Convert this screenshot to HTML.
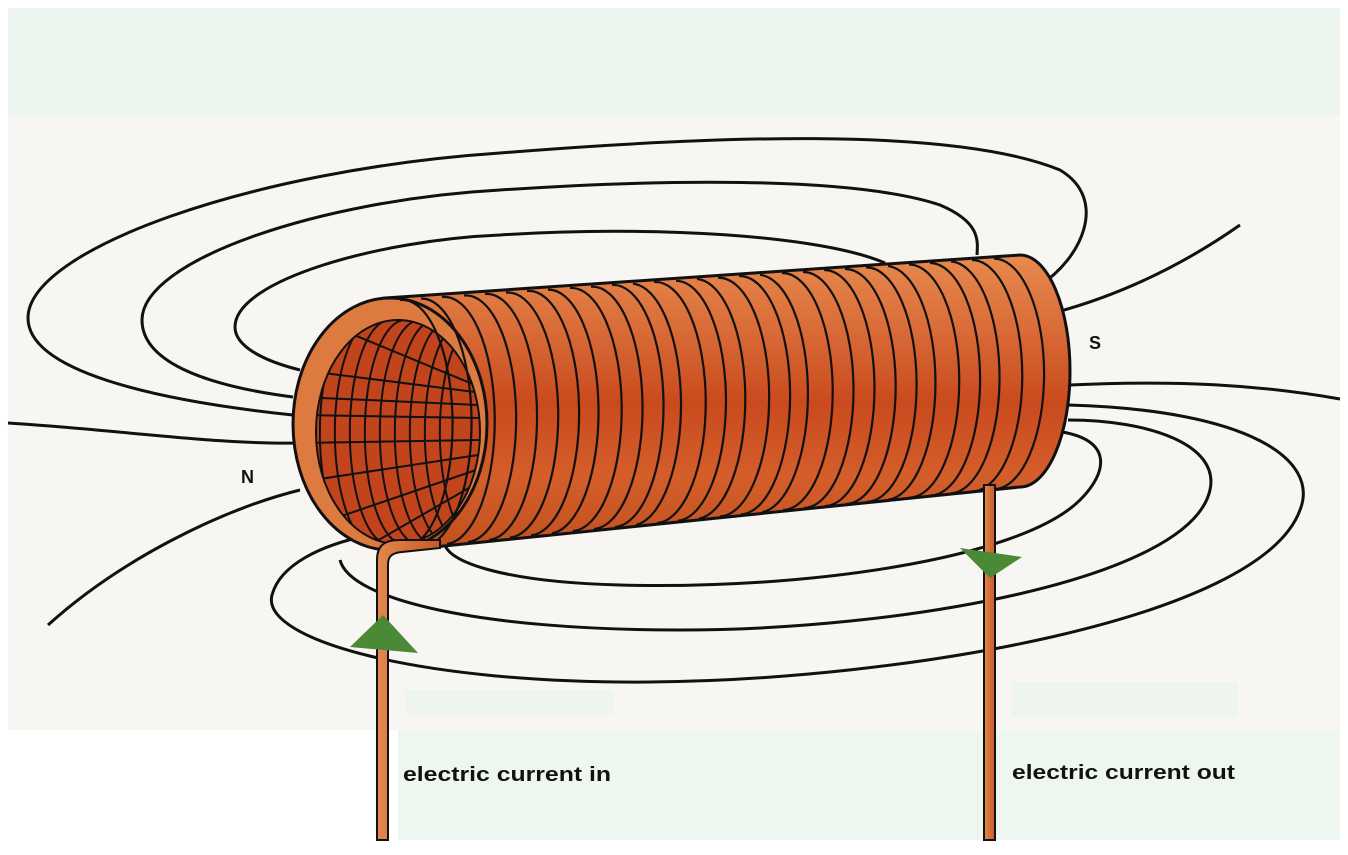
<!DOCTYPE html>
<html><head><meta charset="utf-8"><style>
html,body{margin:0;padding:0;background:#fff;}
body{width:1348px;height:850px;overflow:hidden;position:relative;font-family:"Liberation Sans",Arial,sans-serif;}
</style></head><body>
<svg width="1348" height="850" viewBox="0 0 1348 850" xmlns="http://www.w3.org/2000/svg">
<defs>
<linearGradient id="cu" x1="0" y1="0" x2="0" y2="1">
<stop offset="0" stop-color="#e88a4e"/>
<stop offset="0.25" stop-color="#d96c38"/>
<stop offset="0.5" stop-color="#c94a1e"/>
<stop offset="0.75" stop-color="#d45e2a"/>
<stop offset="1" stop-color="#c0501e"/>
</linearGradient>
<linearGradient id="wire" x1="0" y1="0" x2="1" y2="0">
<stop offset="0" stop-color="#e4874c"/><stop offset="1" stop-color="#c85a28"/>
</linearGradient>
<clipPath id="inner"><ellipse cx="398" cy="432" rx="82" ry="112"/></clipPath>
</defs>
<rect x="0" y="0" width="1348" height="850" fill="#fff"/>
<rect x="8" y="8" width="1332" height="107" fill="#edf6ee"/>
<rect x="8" y="115" width="1332" height="615" fill="#f8f6f3"/>
<rect x="398" y="730" width="942" height="110" fill="#eef7ef"/>
<rect x="405" y="690" width="208" height="25" fill="#edf5ee"/>
<rect x="1012" y="682" width="226" height="35" fill="#edf5ee"/>

<g fill="none" stroke="#111" stroke-width="3">
<path d="M293,415 C150,400 28,370 28,318 C28,250 250,170 500,153 C700,137 950,125 1060,170 C1110,200 1080,260 1040,285"/>
<path d="M293,397 C200,385 142,360 142,320 C142,260 320,200 500,190 C650,180 850,175 940,205 C980,222 978,240 977,255"/>
<path d="M300,370 C260,360 235,345 235,327 C235,280 380,240 500,235 C650,225 820,235 885,263"/>
<path d="M8,423 C120,430 220,445 300,443"/>
<path d="M48,625 C120,560 220,510 300,490"/>
<path d="M1057,312 C1130,292 1190,260 1240,225"/>
<path d="M1070,385 C1180,380 1260,385 1340,399"/>
<path d="M1068,405 C1250,410 1320,460 1300,510 C1260,620 900,680 650,682 C420,684 260,640 272,595 C280,565 320,545 370,535"/>
<path d="M1068,420 C1150,420 1220,445 1210,490 C1190,580 900,630 680,630 C480,630 350,600 340,560"/>
<path d="M1062,432 C1110,440 1110,470 1080,500 C1020,560 800,590 620,585 C500,582 440,560 445,540"/>
</g>

<path d="M385,298 L1020,255 A50,116 0 0 1 1020,487 L405,550 A97,126 0 0 1 385,298 Z" fill="url(#cu)" stroke="#111" stroke-width="3"/>
<ellipse cx="390" cy="424" rx="97" ry="126" fill="#dc7a40" stroke="#111" stroke-width="3"/>
<ellipse cx="398" cy="432" rx="82" ry="112" fill="#c2441c" stroke="#111" stroke-width="2"/>
<g fill="none" stroke="#111" stroke-width="2" clip-path="url(#inner)">
<path d="M345,320 A40,112 0 0 0 345,545"/>
<path d="M360,320 A40,112 0 0 0 360,545"/>
<path d="M375,320 A40,112 0 0 0 375,545"/>
<path d="M390,320 A40,112 0 0 0 390,545"/>
<path d="M405,320 A40,112 0 0 0 405,545"/>
<path d="M420,320 A40,112 0 0 0 420,545"/>
<path d="M435,320 A40,112 0 0 0 435,545"/>
<path d="M450,320 A40,112 0 0 0 450,545"/>
<path d="M465,320 A40,112 0 0 0 465,545"/>
<path d="M480,320 A40,112 0 0 0 480,545"/>
<path d="M300,415 L480,418"/><path d="M300,397 L478,405"/><path d="M300,370 L475,392"/>
<path d="M300,443 L480,440"/><path d="M300,482 L478,455"/><path d="M330,520 L476,470"/><path d="M370,545 L474,485"/>
<path d="M330,325 L475,385"/>
</g>
<g fill="none" stroke="#111" stroke-width="2.2">
<path d="M400,300 A50,124 0 0 1 405,548"/>
<path d="M421,298.5 A50,124 0 0 1 426,546"/>
<path d="M442,297 A50,123 0 0 1 447,544"/>
<path d="M464,295.5 A50,123 0 0 1 468,542"/>
<path d="M485,294 A50,123 0 0 1 489,540"/>
<path d="M506,292.6 A50,122 0 0 1 510,537.5"/>
<path d="M527,291 A50,122 0 0 1 531,535.4"/>
<path d="M548,289.6 A50,122 0 0 1 552,533.3"/>
<path d="M570,288 A50,121 0 0 1 573,531"/>
<path d="M591,286.7 A50,121 0 0 1 594,529"/>
<path d="M612,285 A50,121 0 0 1 615,527"/>
<path d="M633,283.7 A50,121 0 0 1 636,525"/>
<path d="M654,282 A50,120 0 0 1 657,523"/>
<path d="M676,280.8 A50,120 0 0 1 678,520.7"/>
<path d="M697,279 A50,120 0 0 1 699,518.6"/>
<path d="M718,277.8 A50,119 0 0 1 720,516.5"/>
<path d="M739,276 A50,119 0 0 1 741,514.4"/>
<path d="M760,274.8 A50,119 0 0 1 762,512.3"/>
<path d="M782,273 A50,118 0 0 1 783,510"/>
<path d="M803,272 A50,118 0 0 1 804,508"/>
<path d="M824,270 A50,118 0 0 1 825,506"/>
<path d="M845,269 A50,117 0 0 1 846,504"/>
<path d="M866,267.4 A50,117 0 0 1 867,501.8"/>
<path d="M888,266 A50,117 0 0 1 888,499.7"/>
<path d="M909,264.5 A50,116 0 0 1 909,497.6"/>
<path d="M930,263 A50,116 0 0 1 930,495.5"/>
<path d="M951,261.5 A50,116 0 0 1 951,493.4"/>
<path d="M972,260 A50,115 0 0 1 972,491.3"/>
<path d="M994,258.6 A50,115 0 0 1 994,489"/>
</g>

<path d="M377,840 L377,560 C377,545 385,540 400,540 L440,540 L440,548 L402,552 C390,553 388,558 388,565 L388,840 Z" fill="url(#wire)" stroke="#111" stroke-width="2"/>
<rect x="984" y="485" width="11" height="355" fill="url(#wire)" stroke="#111" stroke-width="2"/>
<polygon points="350,647 383,615 418,653" fill="#4a8a36"/>
<polygon points="960,548 1022,557 990,578" fill="#4a8a36"/>

<g font-weight="bold" fill="#111">
<text x="241" y="483" font-size="18">N</text>
<text x="1089" y="349" font-size="18">S</text>
<text x="403" y="781" font-size="20" textLength="208" lengthAdjust="spacingAndGlyphs">electric current in</text>
<text x="1012" y="779" font-size="20" textLength="223" lengthAdjust="spacingAndGlyphs">electric current out</text>
</g>
</svg>
</body></html>
